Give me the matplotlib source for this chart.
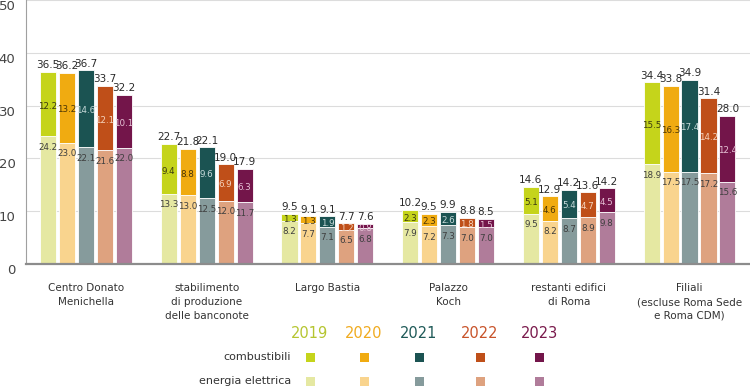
import matplotlib
matplotlib.use("Agg")
import matplotlib.pyplot as plt
from matplotlib.patches import Rectangle
import numpy as np

plt.rcParams['font.family'] = ['Liberation Sans Narrow', 'DejaVu Sans']

categories = ["Centro Donato\nMenichella", "stabilimento\ndi produzione\ndelle banconote",
              "Largo Bastia", "Palazzo\nKoch", "restanti edifici\ndi Roma",
              "Filiali\n(escluse Roma Sede\ne Roma CDM)"]
years = ["2019", "2020", "2021", "2022", "2023"]

# energia elettrica per year (rows) and category (columns)
elettrica = [
    [24.2, 13.3, 8.2, 7.9, 9.5, 18.9],
    [23.0, 13.0, 7.7, 7.2, 8.2, 17.5],
    [22.1, 12.5, 7.1, 7.3, 8.7, 17.5],
    [21.6, 12.0, 6.5, 7.0, 8.9, 17.2],
    [22.0, 11.7, 6.8, 7.0, 9.8, 15.6],
]
combustibili = [
    [12.2, 9.4, 1.3, 2.3, 5.1, 15.5],
    [13.2, 8.8, 1.3, 2.3, 4.6, 16.3],
    [14.6, 9.6, 1.9, 2.6, 5.4, 17.4],
    [12.1, 6.9, 1.2, 1.8, 4.7, 14.2],
    [10.1, 6.3, 0.8, 1.5, 4.5, 12.4],
]
totali = [
    [36.5, 22.7, 9.5, 10.2, 14.6, 34.4],
    [36.2, 21.8, 9.1, 9.5, 12.9, 33.8],
    [36.7, 22.1, 9.1, 9.9, 14.2, 34.9],
    [33.7, 19.0, 7.7, 8.8, 13.6, 31.4],
    [32.2, 17.9, 7.6, 8.5, 14.2, 28.0],
]
yticks = [0, 10, 20, 30, 40, 50]

comb_colors = ["#c5d41b", "#f0ab11", "#1b5352", "#bf4f19", "#73154a"]
elec_colors = ["#e5e8a2", "#f9d48e", "#869b9c", "#dea27f", "#b07c9a"]
year_text_colors = ["#b5c530", "#f0ab20", "#1f5a58", "#c8532a", "#7a1a4c"]
comb_label_colors = ["#3a3a10", "#4a3505", "#c8dada", "#f5d3bd", "#e6c2d6"]
elec_label_color = "#3e3e3e"

W, H = 750, 388
fig = plt.figure(figsize=(W / 100, H / 100), dpi=100)
ax = fig.add_axes([26 / W, 124 / H, 724 / W, 264 / H])

n = len(categories)
x = np.arange(n)
step = 0.157
width = 0.133

for j in range(len(years)):
    xs = x + (j - 2) * step
    el = np.array(elettrica[j])
    co = np.array(combustibili[j])
    ax.bar(xs, el, width, color=elec_colors[j], edgecolor="white", linewidth=0.6, zorder=3)
    ax.bar(xs, co, width, bottom=el, color=comb_colors[j], edgecolor="white", linewidth=0.6, zorder=3)
    for k in range(n):
        ax.annotate(f"{totali[j][k]:.1f}", (xs[k], el[k] + co[k]), xytext=(0, 1.2),
                    textcoords="offset points", ha="center", va="bottom",
                    fontsize=7.5, color="#2a2a2a", zorder=5)
        ax.annotate(f"{co[k]:.1f}", (xs[k], el[k] + co[k] / 2), xytext=(0, -1.5),
                    textcoords="offset points", ha="center", va="center",
                    fontsize=6.3, color=comb_label_colors[j], zorder=5)
        ax.annotate(f"{el[k]:.1f}", (xs[k], el[k]), xytext=(0, -8),
                    textcoords="offset points", ha="center", va="center",
                    fontsize=6.3, color=elec_label_color, zorder=5)

ax.set_xlim(-0.497, 5.501)
ax.set_ylim(0, 50)
ax.set_yticks(yticks)
ax.set_yticklabels([str(t) for t in yticks], va="top", fontsize=9.5, color="#444444")
ax.tick_params(axis="y", length=0, pad=7.5)
ax.set_xticks(x)
ax.set_xticklabels(categories, fontsize=7.5, color="#333333", linespacing=1.45)
ax.tick_params(axis="x", length=0, pad=14)
ax.grid(axis="y", color="#dcdcdc", linewidth=0.8, zorder=0)
for s in ["top", "right"]:
    ax.spines[s].set_visible(False)
ax.spines["left"].set_color("#a0a0a0")
ax.spines["left"].set_linewidth(0.8)
ax.spines["bottom"].set_color("#8c8c8c")
ax.spines["bottom"].set_linewidth(1.6)
ax.spines["bottom"].set_zorder(4)

# legend
lg = fig.add_axes([0, 0, 1, 1], zorder=10)
lg.set_xlim(0, W)
lg.set_ylim(H, 0)
lg.axis("off")
leg_x = [310, 364, 419, 480, 539]
for j, yr in enumerate(years):
    lg.text(leg_x[j], 333, yr, ha="center", va="center", fontsize=10.5, color=year_text_colors[j])
    lg.add_patch(Rectangle((leg_x[j] - 4.5, 357 - 4.5), 9, 9, color=comb_colors[j], lw=0))
    lg.add_patch(Rectangle((leg_x[j] - 4.5, 381 - 4.5), 9, 9, color=elec_colors[j], lw=0))
lg.text(291, 357, "combustibili", ha="right", va="center", fontsize=8, color="#333333")
lg.text(291, 381, "energia elettrica", ha="right", va="center", fontsize=8, color="#333333")

fig.savefig("out.png", dpi=100)
